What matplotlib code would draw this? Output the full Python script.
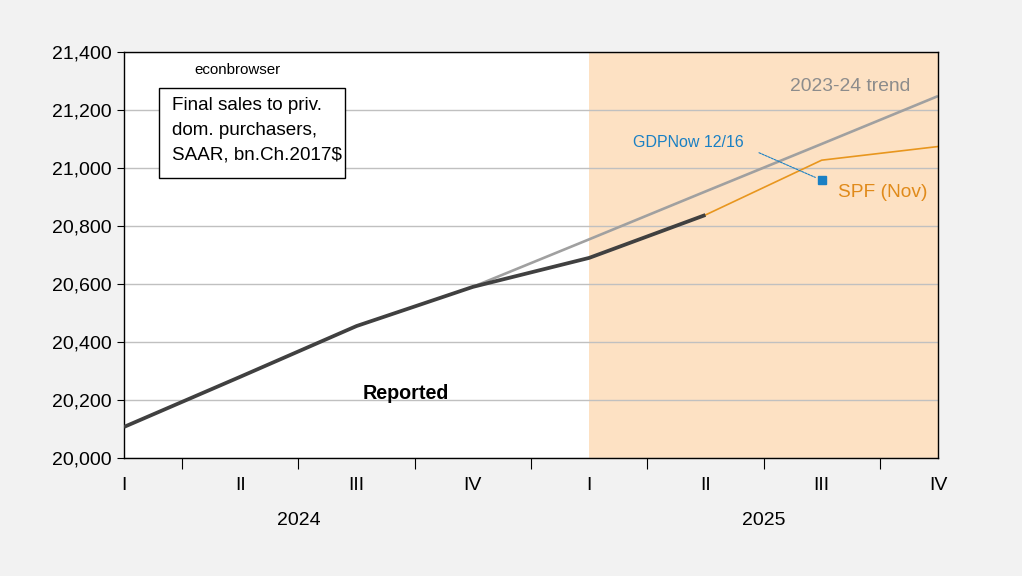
import matplotlib.pyplot as plt
from matplotlib.ticker import FuncFormatter
from matplotlib.patches import Rectangle
import matplotlib.transforms as mtransforms

plt.rcParams['font.family'] = ['Liberation Sans', 'DejaVu Sans']

# quarters 2024Q1 .. 2025Q4
quarters = ['I', 'II', 'III', 'IV', 'I', 'II', 'III', 'IV']
years = ['2024', '2025']
reported = [20107, 20280, 20455, 20590, 20690, 20838]     # 2024Q1-2025Q2
trend = [20590, 20754, 20919, 21083, 21248]               # 2024Q4-2025Q4
spf = [20838, 21027, 21074]                               # 2025Q2-2025Q4
gdpnow = 20958                                            # 2025Q3

x = list(range(len(quarters)))

fig = plt.figure(figsize=(10.22, 5.76), dpi=100, facecolor='#f2f2f2')
ax = fig.add_axes([0.1213, 0.2049, 0.7965, 0.7048])
ax.set_facecolor('white')

# forecast period shading
ax.axvspan(4, 7, color='#fde1c3', zorder=0.5, lw=0)

ax.plot(x[3:], trend, color='#a0a0a0', lw=1.9, zorder=2, solid_capstyle='butt')
ax.plot(x[5:], spf, color='#e8961e', lw=1.2, zorder=2)
ax.plot(x[:6], reported, color='#404040', lw=2.7, zorder=3, solid_capstyle='butt')
ax.plot([6], [gdpnow], marker='s', ms=6, color='#1a80c4', ls='none', zorder=4)

ax.set_xlim(0, 7)
ax.set_ylim(20000, 21400)
ax.set_yticks(range(20000, 21401, 200))
ax.yaxis.set_major_formatter(FuncFormatter(lambda v, p: f'{int(v):,}'))
ax.tick_params(axis='y', direction='out', length=5, labelsize=14, pad=4)
ax.set_axisbelow('line')
ax.grid(axis='y', color='#c0c0c0', lw=1)

# quarter labels (no tick marks), separator ticks between quarters
ax.set_xticks([i + 0.5 for i in range(7)])
ax.set_xticklabels([])
ax.tick_params(axis='x', which='major', direction='out', length=8)
ax.set_xticks(x, quarters, minor=True)
ax.tick_params(axis='x', which='minor', length=0, pad=14, labelsize=14)

trans = mtransforms.blended_transform_factory(ax.transData, ax.transAxes)
ax.text(1.5, -0.155, years[0], transform=trans, ha='center', va='center', fontsize=14)
ax.text(5.5, -0.155, years[1], transform=trans, ha='center', va='center', fontsize=14)

for s in ax.spines.values():
    s.set_color('black')
    s.set_linewidth(1)

# annotations
ax.text(0.139, 0.956, 'econbrowser', transform=ax.transAxes, ha='center', va='center', fontsize=10.9)
ax.add_patch(Rectangle((0.043, 0.690), 0.2285, 0.221, transform=ax.transAxes,
                       fc='white', ec='black', lw=1, zorder=5))
ax.text(0.059, 0.889, 'Final sales to priv.\ndom. purchasers,\nSAAR, bn.Ch.2017$',
        transform=ax.transAxes, ha='left', va='top', fontsize=13.6, linespacing=1.6, zorder=6)
ax.text(0.9656, 0.916, '2023-24 trend', transform=ax.transAxes, ha='right', va='center',
        fontsize=13.9, color='#8c8c8c')
ax.text(0.877, 0.653, 'SPF (Nov)', transform=ax.transAxes, ha='left', va='center',
        fontsize=13.8, color='#e08a1a')
ax.text(0.346, 0.160, 'Reported', transform=ax.transAxes, ha='center', va='center',
        fontsize=14.2, fontweight='bold')
ax.annotate('GDPNow 12/16', xy=(6, gdpnow), xytext=(0.625, 0.776),
            textcoords='axes fraction', ha='left', va='center', fontsize=11.5, color='#1a80c4',
            arrowprops=dict(arrowstyle='-', color='#1a80c4', lw=0.8, ls=(0, (2, 1)),
                            shrinkA=10, shrinkB=5, relpos=(1, 0.3)))

fig.savefig('out.png', dpi=100, facecolor=fig.get_facecolor())
